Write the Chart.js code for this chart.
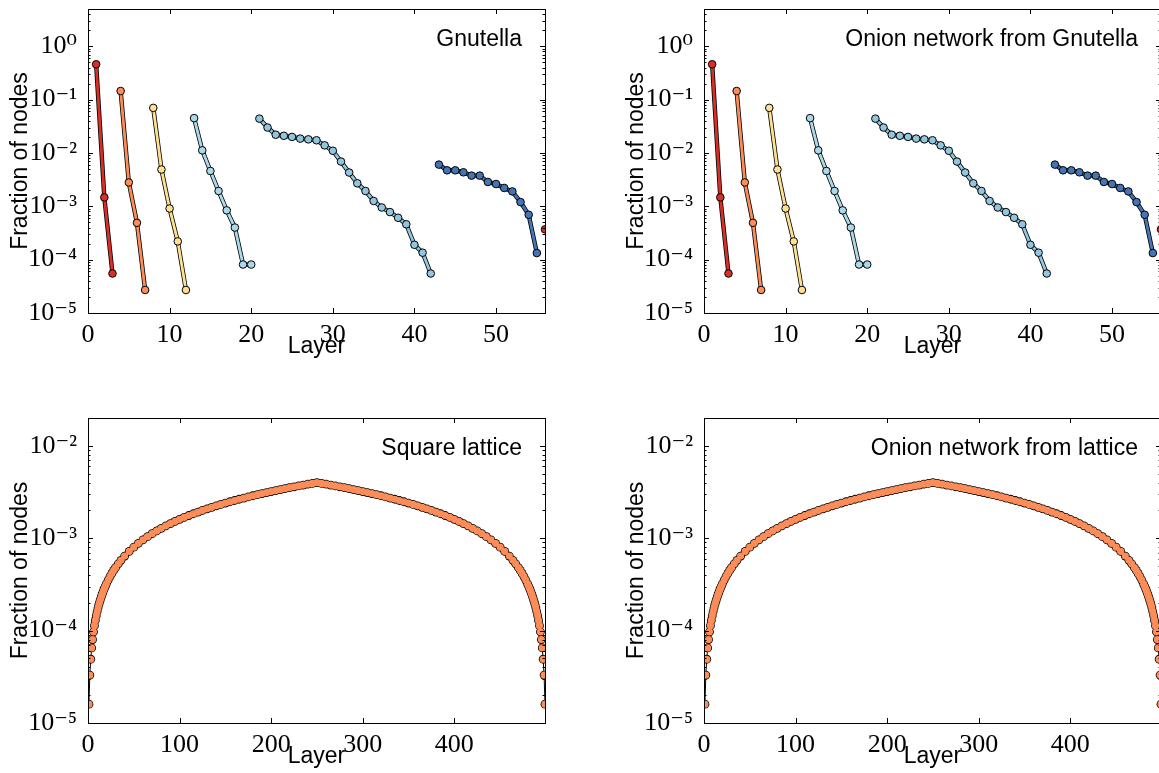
<!DOCTYPE html>
<html>
<head>
<meta charset="utf-8">
<script src="https://cdn.jsdelivr.net/npm/chart.js@4.4.1/dist/chart.umd.min.js"></script>
<style>
  html, body { margin: 0; padding: 0; background: #fff; overflow: hidden; }
  canvas { position: absolute; }
</style>
</head>
<body>
<canvas id="gnutella" width="560" height="360" style="left:0px;top:0px"></canvas>
<canvas id="onionGnutella" width="560" height="360" style="left:616px;top:0px"></canvas>
<canvas id="lattice" width="560" height="390" style="left:0px;top:380px"></canvas>
<canvas id="onionLattice" width="560" height="390" style="left:616px;top:380px"></canvas>
<script>
// Gnutella (and the onion network built from it: same layer profile)
const gnutellaLayers = [1, 2, 3, 4, 5, 6, 7, 8, 9, 10, 11, 12, 13, 14, 15, 16, 17, 18, 19, 20,
  21, 22, 23, 24, 25, 26, 27, 28, 29, 30, 31, 32, 33, 34, 35, 36, 37, 38, 39, 40,
  41, 42, 43, 44, 45, 46, 47, 48, 49, 50, 51, 52, 53, 54, 55, 56];
const gnutellaFraction = [0.46, 1.47e-3, 5.5e-5, 0.145, 2.8e-3, 4.9e-4, 2.7e-5,
  0.07, 4.9e-3, 9.1e-4, 2.2e-4, 2.7e-5,
  0.045, 0.0112, 4.6e-3, 1.94e-3, 8.4e-4, 4.0e-4, 8.1e-5, 8.1e-5,
  0.044, 0.030, 0.022, 0.021, 0.020, 0.0186, 0.018, 0.0173, 0.0139, 0.011,
  6.9e-3, 4.3e-3, 2.7e-3, 1.94e-3, 1.26e-3, 9.5e-4, 7.8e-4, 6.1e-4, 4.6e-4, 1.9e-4,
  1.35e-4, 5.5e-5,
  6.05e-3, 4.73e-3, 4.73e-3, 4.34e-3, 3.76e-3, 3.76e-3, 2.86e-3, 2.62e-3, 2.21e-3, 1.9e-3,
  1.2e-3, 6.95e-4, 1.33e-4,
  3.7e-4];
// last layer of each colour group
const gnutellaGroupEnds = [3, 7, 12, 20, 42, 55, 56];
const groupColors = ['#d73027', '#fc8d59', '#fee090', '#abd9e9', '#92c5de', '#4575b4', '#d73027'];

// Square lattice (the onion network from it looks the same)
const latticeLayers = [1, 2, 3, 4, 5, 6, 7, 8, 9, 10, 11, 12, 13, 14, 15, 16, 17, 18, 19, 20,
  22, 24, 26, 28, 30, 33, 36, 40,
  45, 50, 55, 60, 65, 70, 75, 80, 85, 90, 95, 100,
  105, 110, 115, 120, 125, 130, 135, 140, 145, 150, 155, 160, 165, 170, 175, 180, 185, 190, 195, 200,
  205, 210, 215, 220, 225, 230, 235, 240, 245, 250,
  255, 260, 265, 270, 275, 280, 285, 290, 295, 300, 305, 310, 315, 320, 325, 330, 335, 340, 345, 350,
  355, 360, 365, 370, 375, 380, 385, 390, 395, 400, 405, 410, 415, 420, 425, 430, 435, 440, 445, 450,
  455, 460, 464, 467, 470, 472, 474, 476, 478,
  480, 481, 482, 483, 484, 485, 486, 487, 488, 489, 490, 491, 492, 493, 494, 495, 496, 497, 498, 499];
const latticeFraction = [1.6e-5, 3.3e-5, 4.9e-5, 6.5e-5, 8.0e-5, 9.7e-5, 1.13e-4, 1.29e-4, 1.45e-4, 1.61e-4,
  1.77e-4, 1.93e-4, 2.08e-4, 2.24e-4, 2.4e-4, 2.56e-4, 2.72e-4, 2.88e-4, 3.04e-4, 3.2e-4,
  3.52e-4, 3.84e-4, 4.16e-4, 4.48e-4, 4.8e-4, 5.28e-4, 5.76e-4, 6.4e-4,
  7.2e-4, 8.0e-4, 8.8e-4, 9.6e-4, 1.04e-3, 1.12e-3, 1.2e-3, 1.28e-3, 1.36e-3, 1.44e-3, 1.52e-3, 1.6e-3,
  1.68e-3, 1.76e-3, 1.84e-3, 1.92e-3, 2.0e-3, 2.08e-3, 2.16e-3, 2.24e-3, 2.32e-3, 2.4e-3, 2.48e-3, 2.56e-3, 2.64e-3, 2.72e-3, 2.8e-3, 2.88e-3, 2.96e-3, 3.04e-3, 3.12e-3, 3.2e-3,
  3.28e-3, 3.36e-3, 3.44e-3, 3.52e-3, 3.6e-3, 3.68e-3, 3.76e-3, 3.84e-3, 3.92e-3, 4.0e-3,
  3.92e-3, 3.84e-3, 3.76e-3, 3.68e-3, 3.6e-3, 3.52e-3, 3.44e-3, 3.36e-3, 3.28e-3, 3.2e-3, 3.12e-3, 3.04e-3, 2.96e-3, 2.88e-3, 2.8e-3, 2.72e-3, 2.64e-3, 2.56e-3, 2.48e-3, 2.4e-3,
  2.32e-3, 2.24e-3, 2.16e-3, 2.08e-3, 2.0e-3, 1.92e-3, 1.84e-3, 1.76e-3, 1.68e-3, 1.6e-3, 1.52e-3, 1.44e-3, 1.36e-3, 1.28e-3, 1.2e-3, 1.12e-3, 1.04e-3, 9.6e-4, 8.8e-4, 8.0e-4,
  7.2e-4, 6.4e-4, 5.76e-4, 5.28e-4, 4.8e-4, 4.48e-4, 4.16e-4, 3.84e-4, 3.52e-4,
  3.2e-4, 3.04e-4, 2.88e-4, 2.72e-4, 2.56e-4, 2.4e-4, 2.24e-4, 2.08e-4, 1.93e-4, 1.77e-4,
  1.61e-4, 1.45e-4, 1.29e-4, 1.13e-4, 9.7e-5, 8.0e-5, 6.5e-5, 4.9e-5, 3.3e-5, 1.6e-5];

const gnutellaXTicks = [0, 10, 20, 30, 40, 50];
const gnutellaYTicks = [1e-5, 1e-4, 1e-3, 1e-2, 1e-1, 1];
const latticeXTicks = [0, 100, 200, 300, 400];
const latticeYTicks = [1e-5, 1e-4, 1e-3, 1e-2];

const SUP = { '0': '\u2070', '1': '\u00b9', '2': '\u00b2', '3': '\u00b3', '4': '\u2074', '5': '\u2075', '-': '\u207b' };
function powerLabel(v) {
  const e = Math.round(Math.log10(v));
  return '10' + String(e).split('').map(c => SUP[c]).join('');
}

const tickFont = { family: '"Liberation Serif", "DejaVu Serif", serif', size: 26, lineHeight: 1 };
const titleFont = { family: '"Liberation Sans", Arial, sans-serif', size: 23 };

// box around the plot, inward ticks on all four sides, and the panel label
const framePlugin = {
  id: 'frame',
  afterDraw(chart, args, opts) {
    const { ctx, chartArea: a, scales: { x, y } } = chart;
    const px = v => Math.round(x.getPixelForValue(v)) + 0.5;
    const py = v => Math.round(y.getPixelForValue(v)) + 0.5;
    ctx.save();
    ctx.strokeStyle = '#000';
    ctx.lineWidth = 1;
    ctx.beginPath();
    x.ticks.forEach(t => {
      const X = px(t.value);
      ctx.moveTo(X, a.bottom); ctx.lineTo(X, a.bottom - 5);
      ctx.moveTo(X, a.top); ctx.lineTo(X, a.top + 5);
    });
    y.ticks.forEach(t => {
      const Y = py(t.value);
      ctx.moveTo(a.left, Y); ctx.lineTo(a.left + 5, Y);
      ctx.moveTo(a.right, Y); ctx.lineTo(a.right - 5, Y);
    });
    for (let e = Math.floor(Math.log10(y.min)); e <= Math.ceil(Math.log10(y.max)); e++) {
      for (let m = 2; m <= 9; m++) {
        const v = m * Math.pow(10, e);
        if (v <= y.min || v >= y.max) continue;
        const Y = py(v);
        ctx.moveTo(a.left, Y); ctx.lineTo(a.left + 2.5, Y);
        ctx.moveTo(a.right, Y); ctx.lineTo(a.right - 2.5, Y);
      }
    }
    ctx.stroke();
    ctx.strokeRect(Math.round(a.left) + 0.5, Math.round(a.top) + 0.5, Math.round(a.width), Math.round(a.height));
    ctx.fillStyle = '#000';
    ctx.font = '23px "Liberation Sans", Arial, sans-serif';
    ctx.textAlign = 'right';
    ctx.textBaseline = 'alphabetic';
    ctx.fillText(opts.text, a.right - 23, a.top + 37);
    ctx.restore();
  }
};

function gnutellaDatasets() {
  const sets = [];
  let start = 0;
  gnutellaGroupEnds.forEach((end, g) => {
    const pts = [];
    gnutellaLayers.forEach((l, i) => {
      if (l > start && l <= end) pts.push({ x: l, y: gnutellaFraction[i] });
    });
    // dark outline under the coloured line
    sets.push({ data: pts.slice(), borderColor: '#000', borderWidth: 4.4, pointRadius: 0, order: 2 });
    sets.push({
      data: pts.slice(), borderColor: groupColors[g], borderWidth: 2.8,
      pointRadius: 3.8, pointBorderWidth: 1, pointBorderColor: '#000',
      pointBackgroundColor: groupColors[g], order: 1
    });
    start = end;
  });
  return sets;
}

function latticeDatasets() {
  const pts = latticeLayers.map((l, i) => ({ x: l, y: latticeFraction[i] }));
  return [
    // black underlay gives the dark rim of the marker band
    { data: pts.slice(), borderColor: '#000', borderWidth: 1, pointRadius: 4.4, pointBorderWidth: 0,
      pointBackgroundColor: '#000', order: 2 },
    { data: pts.slice(), showLine: false, pointRadius: 3.6, pointBorderWidth: 0,
      pointBackgroundColor: '#fc8d59', order: 1 }
  ];
}

function makeChart(id, p) {
  return new Chart(document.getElementById(id), {
    type: 'line',
    data: { datasets: p.datasets },
    options: {
      responsive: false,
      animation: false,
      events: [],
      layout: { padding: { top: p.padTop, right: 15, left: 0, bottom: 0 } },
      plugins: {
        legend: { display: false },
        tooltip: { enabled: false },
        frame: { text: p.label }
      },
      scales: {
        x: {
          type: 'linear', min: 0, max: p.xMax,
          grid: { display: false }, border: { display: false },
          afterBuildTicks: s => { s.ticks = p.xTicks.map(v => ({ value: v })); },
          afterFit: s => { s.height = p.xAxisHeight; s.paddingLeft = 0; s.paddingRight = 0; },
          ticks: { font: tickFont, color: '#000', padding: 1, maxRotation: 0, autoSkip: false },
          title: { display: true, text: 'Layer', font: titleFont, color: '#000', padding: 0 }
        },
        y: {
          type: 'logarithmic', min: p.yMin, max: p.yMax,
          grid: { display: false }, border: { display: false },
          afterBuildTicks: s => { s.ticks = p.yTicks.map(v => ({ value: v })); },
          afterFit: s => { s.width = 88; s.paddingTop = 0; s.paddingBottom = 0; },
          ticks: { font: tickFont, color: '#000', padding: 3, autoSkip: false, callback: v => powerLabel(v) },
          title: { display: true, text: 'Fraction of nodes', font: titleFont, color: '#000', padding: { top: 7, bottom: 0 } }
        }
      }
    },
    plugins: [framePlugin]
  });
}

const gnutellaPanel = { xMax: 56, xTicks: gnutellaXTicks, yMin: 1e-5, yMax: 5, yTicks: gnutellaYTicks, padTop: 9, xAxisHeight: 47 };
const latticePanel = { xMax: 499, xTicks: latticeXTicks, yMin: 1e-5, yMax: 2e-2, yTicks: latticeYTicks, padTop: 38, xAxisHeight: 47 };

makeChart('gnutella', Object.assign({}, gnutellaPanel, { label: 'Gnutella', datasets: gnutellaDatasets() }));
makeChart('onionGnutella', Object.assign({}, gnutellaPanel, { label: 'Onion network from Gnutella', datasets: gnutellaDatasets() }));
makeChart('lattice', Object.assign({}, latticePanel, { label: 'Square lattice', datasets: latticeDatasets() }));
makeChart('onionLattice', Object.assign({}, latticePanel, { label: 'Onion network from lattice', datasets: latticeDatasets() }));
</script>
</body>
</html>
